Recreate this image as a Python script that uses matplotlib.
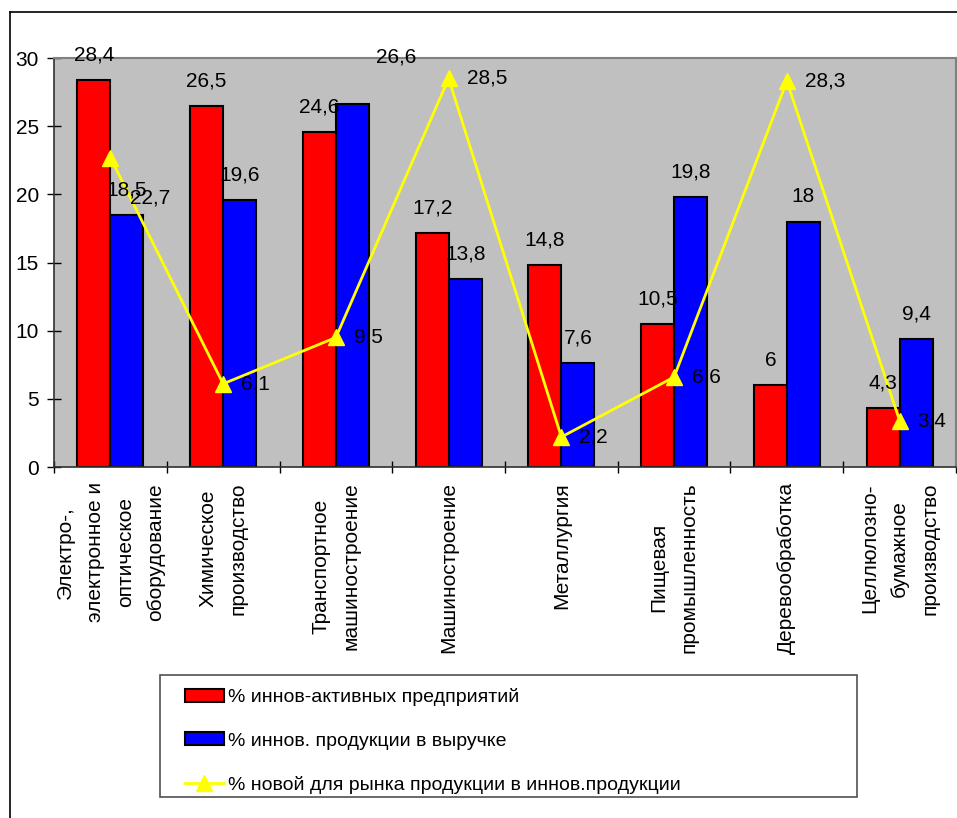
import matplotlib
matplotlib.use('Agg')
import matplotlib.pyplot as plt
import numpy as np
from matplotlib.lines import Line2D
from matplotlib.patches import Patch, Rectangle

# -----------------------------
# Data
# -----------------------------
categories = ['Электро-,\nэлектронное и\nоптическое\nоборудование',
              'Химическое\nпроизводство',
              'Транспортное\nмашиностроение',
              'Машиностроение',
              'Металлургия',
              'Пищевая\nпромышленность',
              'Деревообработка',
              'Целлюлозно-\nбумажное\nпроизводство']
active_pct = [28.4, 26.5, 24.6, 17.2, 14.8, 10.5, 6, 4.3]
revenue_pct = [18.5, 19.6, 26.6, 13.8, 7.6, 19.8, 18, 9.4]
new_market_pct = [22.7, 6.1, 9.5, 28.5, 2.2, 6.6, 28.3, 3.4]
series_names = ['% иннов-активных предприятий',
                '% иннов. продукции в выручке',
                '% новой для рынка продукции в иннов.продукции']


def fmt(v):
    return ('%g' % v).replace('.', ',')


plt.rcParams['font.family'] = ['Liberation Sans', 'DejaVu Sans']
plt.rcParams['font.size'] = 15

fig = plt.figure(figsize=(9.57, 8.18), dpi=100)
ax = fig.add_axes([54/957, 1-467/818, (956-54)/957, (467-58)/818])
ax.set_facecolor('#c0c0c0')

x = np.arange(len(categories))
w = 0.293
ax.bar(x - w/2, active_pct, w, color='#ff0000', edgecolor='black', linewidth=1.5, zorder=2)
ax.bar(x + w/2, revenue_pct, w, color='#0000ff', edgecolor='black', linewidth=1.5, zorder=2)
ax.plot(x, new_market_pct, color='#ffff00', linewidth=2, marker='^', markersize=11,
        markeredgecolor='#ffff00', zorder=3)

# bar value labels (one manually moved label as in the original)
for i, (r, b) in enumerate(zip(active_pct, revenue_pct)):
    ax.annotate(fmt(r), (x[i] - w/2, r), xytext=(0, 25), textcoords='offset pixels',
                ha='center', va='center', zorder=4)
    dx, dy = (44, 47) if i == 2 else (0, 25)
    ax.annotate(fmt(b), (x[i] + w/2, b), xytext=(dx, dy), textcoords='offset pixels',
                ha='center', va='center', zorder=4)

# line value labels
for i, v in enumerate(new_market_pct):
    dx, dy = (20, -40) if i == 0 else (18, 0)
    ax.annotate(fmt(v), (x[i], v), xytext=(dx, dy), textcoords='offset pixels',
                ha='left', va='center', zorder=4)

ax.set_xlim(-0.5, len(categories) - 0.5)
ax.set_ylim(0, 30)
ax.set_yticks(np.arange(0, 31, 5))
ax.tick_params(axis='y', direction='inout', length=9.5, width=1, pad=6, colors='black')

ax.set_xticks(np.arange(-0.5, len(categories)), labels=[])
ax.tick_params(axis='x', which='major', direction='inout', length=9, width=1)
ax.set_xticks(x, labels=categories, minor=True)
ax.tick_params(axis='x', which='minor', length=0, pad=11)
for lbl in ax.get_xticklabels(minor=True):
    lbl.set_rotation(90)
    lbl.set_va('top')
    lbl.set_ha('center')
    lbl.set_multialignment('center')
    lbl.set_linespacing(1.75)

for s in ['left', 'bottom']:
    ax.spines[s].set_color('#303030')
    ax.spines[s].set_linewidth(1.2)
for s in ['top', 'right']:
    ax.spines[s].set_color('#808080')
    ax.spines[s].set_linewidth(1.5)

# outer chart frame (cropped)
fig.add_artist(Line2D([10/957, 10/957], [0, 1-12/818], color='black', linewidth=1.2))
fig.add_artist(Line2D([10/957, 1], [1-12/818, 1-12/818], color='black', linewidth=1.2))

# legend
handles = [Patch(facecolor='#ff0000', edgecolor='black', linewidth=1.5),
           Patch(facecolor='#0000ff', edgecolor='black', linewidth=1.5),
           Line2D([], [], color='#ffff00', linewidth=2, marker='^', markersize=11)]
fig.legend(handles, series_names, loc='upper left',
           bbox_to_anchor=(185/957, 1-688/818), frameon=False,
           borderaxespad=0, borderpad=0, handlelength=2.0, handleheight=0.65,
           handletextpad=0.2, labelspacing=1.35,
           prop={'size': 14})
fig.add_artist(Rectangle((160/957, 1-797/818), (857-160)/957, (797-675)/818,
                         transform=fig.transFigure, fill=False, edgecolor='#505050', linewidth=1.2))

fig.savefig('out.png', dpi=100)
